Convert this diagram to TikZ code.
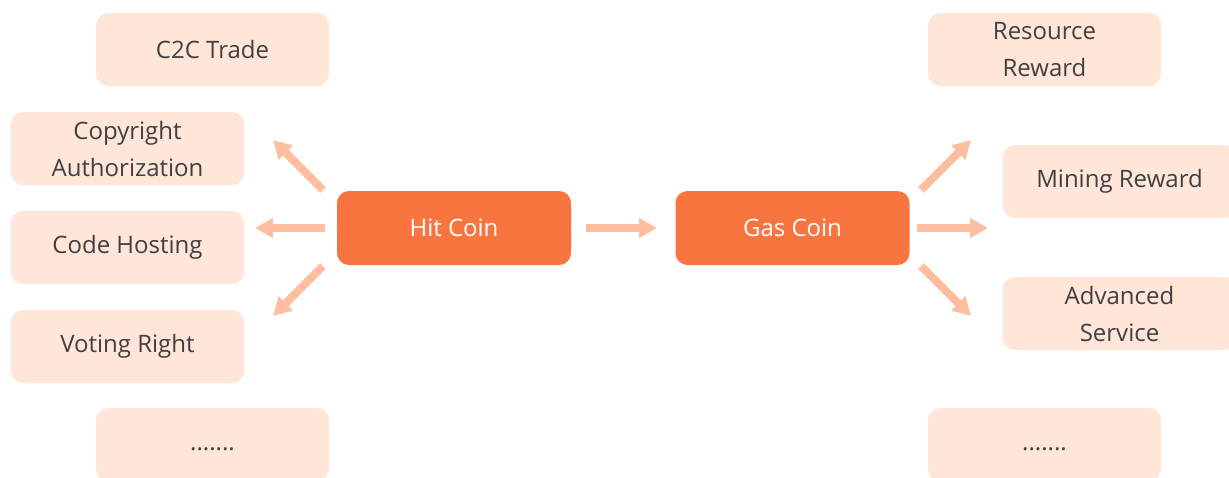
\documentclass[tikz,border=0pt]{standalone}
\usepackage{fontspec}
\setmainfont{Open Sans}
\usetikzlibrary{arrows.meta}
\definecolor{lightbox}{HTML}{FFE6D9}
\definecolor{darkbox}{HTML}{F87540}
\definecolor{arrowc}{HTML}{FFBE9F}
\definecolor{txt}{HTML}{404040}
\tikzset{
  item/.style={fill=lightbox, rounded corners=12pt, minimum width=233pt, minimum height=73pt,
    text=txt, align=center, font=\fontsize{24}{37}\selectfont, inner sep=0pt},
  coin/.style={fill=darkbox, rounded corners=12pt, minimum width=234pt, minimum height=74pt,
    text=white, align=center, font=\fontsize{24}{37}\selectfont, inner sep=0pt},
  flow/.style={draw=arrowc, line width=8pt, -{Triangle[length=18pt,width=19pt]}}
}
\begin{document}
\begin{tikzpicture}[x=1pt,y=-1pt]
\useasboundingbox (0,0) rectangle (1229,477);
\clip (0,0) rectangle (1229,477);
% left items
\node[item] (c2c) at (212.5,49.5) {C2C Trade};
\node[item] (copy) at (127.5,148.5) {Copyright\\Authorization};
\node[item] (code) at (127.5,247.5) {Code Hosting};
\node[item] (vote) at (127.5,346.5) {Voting Right};
\node[item] (ldots) at (212.5,444.5) {\vphantom{Ag}.......};
% coins
\node[coin] (hit) at (454,228) {Hit Coin};
\node[coin] (gas) at (792.5,228) {Gas Coin};
% right items
\node[item] (res) at (1044.5,49.5) {Resource\\Reward};
\node[item] (mine) at (1119.5,181.5) {Mining Reward};
\node[item] (adv) at (1119.5,313.5) {Advanced\\Service};
\node[item] (rdots) at (1044.5,444.5) {\vphantom{Ag}.......};
% arrow ends
\coordinate (h1) at (323,190); \coordinate (t1) at (273,140);
\coordinate (h2) at (325,228); \coordinate (t2) at (255,228);
\coordinate (h3) at (323,266); \coordinate (t3) at (273,316);
\coordinate (m1) at (586,228); \coordinate (m2) at (657,228);
\coordinate (g1) at (921,190); \coordinate (s1) at (971,140);
\coordinate (g2) at (917,228); \coordinate (s2) at (988,228);
\coordinate (g3) at (921,266); \coordinate (s3) at (971,316);
\draw[flow] (h1) -- (t1);
\draw[flow] (h2) -- (t2);
\draw[flow] (h3) -- (t3);
\draw[flow] (m1) -- (m2);
\draw[flow] (g1) -- (s1);
\draw[flow] (g2) -- (s2);
\draw[flow] (g3) -- (s3);
\end{tikzpicture}
\end{document}
